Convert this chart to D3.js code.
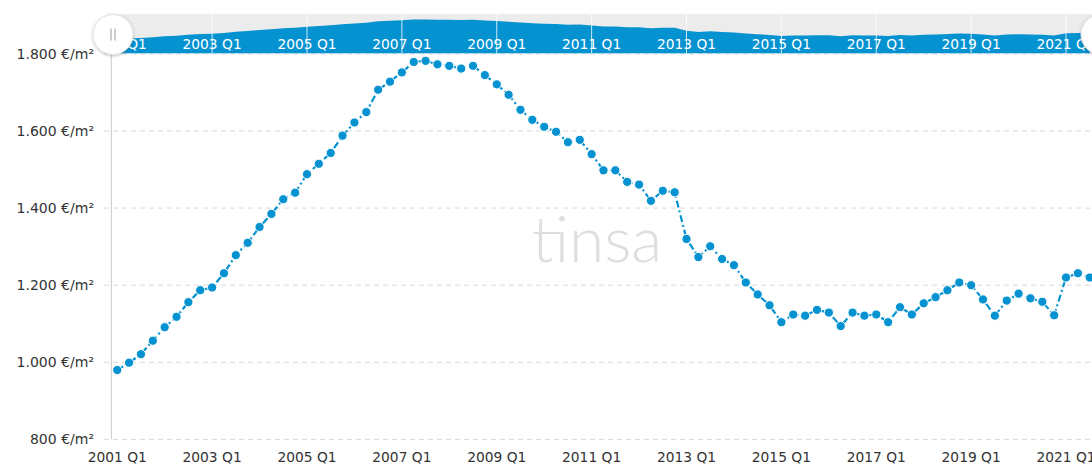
<!DOCTYPE html>
<html><head><meta charset="utf-8">
<script src="https://cdn.jsdelivr.net/npm/d3@7"></script>
<style>
html,body{margin:0;padding:0;background:#fff;overflow:hidden}
svg{display:block;font-family:"DejaVu Sans",Verdana,sans-serif}
</style></head>
<body>
<svg id="c" width="1092" height="465"></svg>
<script>
const quarters = [
"2001 Q1","2001 Q2","2001 Q3","2001 Q4","2002 Q1","2002 Q2","2002 Q3","2002 Q4",
"2003 Q1","2003 Q2","2003 Q3","2003 Q4","2004 Q1","2004 Q2","2004 Q3","2004 Q4",
"2005 Q1","2005 Q2","2005 Q3","2005 Q4","2006 Q1","2006 Q2","2006 Q3","2006 Q4",
"2007 Q1","2007 Q2","2007 Q3","2007 Q4","2008 Q1","2008 Q2","2008 Q3","2008 Q4",
"2009 Q1","2009 Q2","2009 Q3","2009 Q4","2010 Q1","2010 Q2","2010 Q3","2010 Q4",
"2011 Q1","2011 Q2","2011 Q3","2011 Q4","2012 Q1","2012 Q2","2012 Q3","2012 Q4",
"2013 Q1","2013 Q2","2013 Q3","2013 Q4","2014 Q1","2014 Q2","2014 Q3","2014 Q4",
"2015 Q1","2015 Q2","2015 Q3","2015 Q4","2016 Q1","2016 Q2","2016 Q3","2016 Q4",
"2017 Q1","2017 Q2","2017 Q3","2017 Q4","2018 Q1","2018 Q2","2018 Q3","2018 Q4",
"2019 Q1","2019 Q2","2019 Q3","2019 Q4","2020 Q1","2020 Q2","2020 Q3","2020 Q4",
"2021 Q1","2021 Q2","2021 Q3"];
const prices = [
980,999,1021,1056,1091,1118,1156,1187,
1194,1231,1278,1310,1351,1385,1423,1440,
1488,1515,1543,1588,1622,1649,1707,1728,
1752,1779,1782,1773,1769,1762,1769,1745,
1721,1694,1655,1629,1611,1598,1571,1577,
1540,1498,1498,1468,1461,1419,1445,1441,
1320,1273,1301,1268,1252,1207,1176,1148,
1104,1124,1121,1136,1129,1094,1129,1121,
1124,1104,1143,1124,1153,1169,1187,1207,
1200,1163,1121,1160,1178,1166,1157,1122,
1220,1231,1220];
const yTicks = [800,1000,1200,1400,1600,1800];
const xTickLabels = ["2001 Q1","2003 Q1","2005 Q1","2007 Q1","2009 Q1","2011 Q1","2013 Q1","2015 Q1","2017 Q1","2019 Q1","2021 Q1"];

const data = quarters.map((q,i)=>({q, v: prices[i]}));
const svg = d3.select("#c");
const blue = "#0592d0";

const left = 111.3, step = 11.86;
const x = d3.scaleBand().domain(quarters).range([left, left + quarters.length*step]).padding(0);
const cx = q => x(q) + x.bandwidth()/2;
const y = d3.scaleLinear().domain([800,1800]).range([439.4, 53.9]);

const fmt = v => d3.format(",")(v).replace(/,/g,".") + " €/m²";

// grid
const grid = svg.append("g");
grid.selectAll("line").data(yTicks).join("line")
  .attr("x1",104).attr("x2",1092)
  .attr("y1",d=>y(d)).attr("y2",d=>y(d))
  .attr("stroke","#d9d9d9").attr("stroke-dasharray","5,4").attr("stroke-width",1);

// y axis line
svg.append("line").attr("x1",left).attr("x2",left).attr("y1",53).attr("y2",y(800))
  .attr("stroke","#c8c8c8").attr("stroke-width",1);

// y labels
svg.append("g").selectAll("text").data(yTicks).join("text")
  .attr("x",94).attr("y",d=>y(d)).attr("dy","0.35em")
  .attr("text-anchor","end").attr("font-size",14).attr("fill","#333")
  .text(fmt);

// x labels
svg.append("g").selectAll("text").data(xTickLabels).join("text")
  .attr("x",d=>cx(d)).attr("y",462)
  .attr("text-anchor","middle").attr("font-size",13.8).attr("fill","#333")
  .text(d=>d);

// watermark
svg.append("text").attr("x",597).attr("y",262).attr("text-anchor","middle")
  .attr("font-family","Lato, 'Open Sans', sans-serif").attr("font-weight",300)
  .attr("font-size",64).attr("fill","#dedede").text("tinsa");

// line
const line = d3.line().x(d=>cx(d.q)).y(d=>y(d.v));
svg.append("path").datum(data).attr("d",line)
  .attr("fill","none").attr("stroke",blue).attr("stroke-width",2.2)
  .attr("stroke-dasharray","7,3,2,3");

svg.append("g").selectAll("circle").data(data).join("circle")
  .attr("cx",d=>cx(d.q)).attr("cy",d=>y(d.v)).attr("r",4.6)
  .attr("fill",blue).attr("stroke","#fff").attr("stroke-width",1);

// navigator
const navTop = 14, navBot = 53.3;
const ny = d3.scaleLinear().domain([390,2010]).range([navBot, navTop]);
const nav = svg.append("g");
const defs = svg.append("defs");
const f = defs.append("filter").attr("id","sh").attr("x","-50%").attr("y","-50%").attr("width","200%").attr("height","200%");
f.append("feDropShadow").attr("dx",0).attr("dy",1).attr("stdDeviation",1.5).attr("flood-color","#000").attr("flood-opacity",0.25);

nav.append("rect").attr("x",left).attr("y",navTop).attr("width",1092-left).attr("height",navBot-navTop).attr("fill","#ececec");
const area = d3.area().x(d=>cx(d.q)).y0(navBot).y1(d=>ny(d.v));
nav.append("path").datum(data).attr("d",area).attr("fill",blue);
nav.append("rect").attr("x",left).attr("y",ny(prices[0])).attr("width",cx(quarters[0])-left+0.5).attr("height",navBot-ny(prices[0])).attr("fill",blue);
nav.selectAll("line").data(xTickLabels).join("line")
  .attr("x1",d=>cx(d)).attr("x2",d=>cx(d)).attr("y1",navTop).attr("y2",navBot)
  .attr("stroke","#fff").attr("stroke-width",1).attr("opacity",0.8);
nav.selectAll("text").data(xTickLabels).join("text")
  .attr("x",d=>cx(d)).attr("y",48.5).attr("text-anchor","middle")
  .attr("font-size",13.8).attr("fill","#fff").text(d=>d);

// handles
[[113,34.5],[1101,34.5]].forEach(([hx,hy])=>{
  const h = svg.append("g");
  h.append("circle").attr("cx",hx).attr("cy",hy).attr("r",20).attr("fill","#fff")
    .attr("stroke","#e2e2e2").attr("filter","url(#sh)");
  h.append("line").attr("x1",hx-2).attr("x2",hx-2).attr("y1",hy-6).attr("y2",hy+6).attr("stroke","#999");
  h.append("line").attr("x1",hx+2).attr("x2",hx+2).attr("y1",hy-6).attr("y2",hy+6).attr("stroke","#999");
});
</script>
</body></html>
